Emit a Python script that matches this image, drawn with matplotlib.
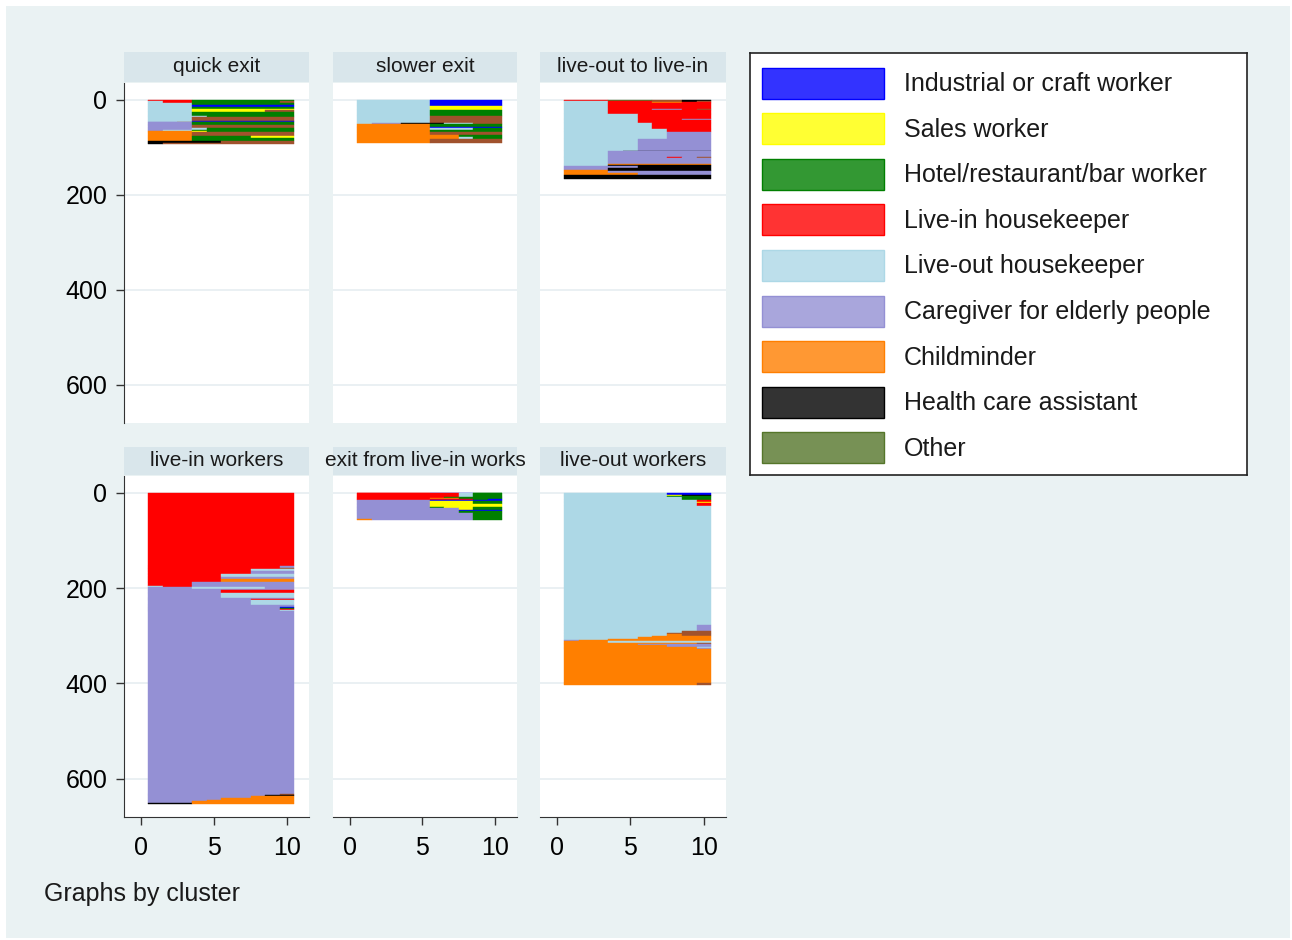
import matplotlib
matplotlib.use('Agg')
from matplotlib import pyplot as plt
from matplotlib.patches import Rectangle

plt.rcParams['font.family'] = ['Liberation Sans', 'DejaVu Sans']

# state codes -> legend labels / plot colours
codes = ['I', 'S', 'H', 'L', 'O', 'C', 'M', 'A', 'T']
labels = ['Industrial or craft worker', 'Sales worker', 'Hotel/restaurant/bar worker',
          'Live-in housekeeper', 'Live-out housekeeper', 'Caregiver for elderly people',
          'Childminder', 'Health care assistant', 'Other']
colors = {'I': '#0000ff', 'S': '#ffff00', 'H': '#007f00', 'L': '#ff0000',
          'O': '#add8e6', 'C': '#9490d4', 'M': '#ff7f00', 'A': '#000000',
          'T': '#55762a', 'B': '#a0522d'}

cluster_names = ['quick exit', 'slower exit', 'live-out to live-in',
                 'live-in workers', 'exit from live-in works', 'live-out workers']

# each entry: (number of identical sequences, states over periods 1..10)
quick_exit = [
    (3, 'LLLHHHHHHH'), (4, 'OLLHHHHHHB'), (4, 'OOOHHHHHHH'), (5, 'OOOIIIIIII'),
    (3, 'OOOHHHHHHH'), (3, 'OOOSSSSSSS'), (4, 'OOOSSSSSBB'), (8, 'OOOHHHHHHH'),
    (3, 'OOOOHHHHHH'), (7, 'OOOBBBBBBB'), (2, 'OOOIIIIIII'), (2, 'CCBBBBBBBB'),
    (6, 'CCCHHHHHHH'), (5, 'CCCBBBBBBB'), (5, 'CCCOHHHHHH'), (2, 'COOHHHHHHH'),
    (3, 'MMMSHHHHHH'), (7, 'MMMBBBBBBB'), (4, 'MMMHHHHSSS'), (8, 'MMMHHHHHHH'),
    (3, 'AAAAABBBBB'), (3, 'ABBBBBBBBB'),
]
slower_exit = [
    (14, 'OOOOOIIIII'), (7, 'OOOOOSSSSS'), (13, 'OOOOOHHHHH'), (15, 'OOOOOBBBBB'),
    (2, 'OCCAAAOOBB'), (6, 'MMMMMHHHHH'), (3, 'MMMMMIIIII'), (3, 'MMMMMOOOHH'),
    (5, 'MMMMMHHHHH'), (6, 'MMMMMBBBBB'), (5, 'MMMMMMMHHH'), (3, 'MMMMMMMOHH'),
    (9, 'MMMMMBBBBB'),
]
out_to_in = [
    (3, 'LLLTTTBBAA'), (3, 'OOOLLLBBAB'), (2, 'OOOLLLMMLL'), (11, 'OOOLLLLLLL'),
    (2, 'OOOLLLCCLB'), (9, 'OOOLLLLLLL'), (10, 'OOOOOLLLLL'), (2, 'OOOOOLLLCC'),
    (8, 'OOOOOLLLLL'), (11, 'OOOOOOLLLL'), (7, 'OOOOOOOLLL'), (15, 'OOOOOOOCCC'),
    (25, 'OOOOOCCCCC'), (1, 'OOOOAAAAAA'), (11, 'OOOCCCCCCC'), (2, 'OOOCCCCLCB'),
    (13, 'OOOCCCCCCC'), (2, 'OOOMMMMMMM'), (3, 'OOOAAAAAAA'), (4, 'CCCCCAAAAA'),
    (4, 'CCCAAAAAAA'), (3, 'MMMAAAAAAA'), (4, 'MMMCCCCCCC'), (3, 'MMMMMCCCCC'),
    (9, 'AAAAAAAAAA'),
]
live_in = [
    (153, 'LLLLLLLLLL'), (5, 'LLLLLLLLLC'), (2, 'LLLLLLLLLB'), (4, 'LLLLLLLOOO'),
    (6, 'LLLLLLLCCC'), (6, 'LLLLLOOOOO'), (6, 'LLLLLCCCCC'), (5, 'LLLLLMMMMM'),
    (8, 'LLLCCCCCCC'), (3, 'OLLCCCCCCC'), (4, 'CCCOOOOOCC'), (3, 'CCCCCCCCCC'),
    (5, 'CCCCCLLLLL'), (10, 'CCCCCOOOOO'), (2, 'CCCCCCCCCC'), (4, 'CCCCCCCLLL'),
    (9, 'CCCCCCCOOO'), (4, 'CCCCCCCCCC'), (2, 'CCCCCCCCCI'), (2, 'CCCCCCCCCH'),
    (4, 'CCCCCCCCCL'), (2, 'CCCCCCCCCO'), (382, 'CCCCCCCCCC'), (3, 'CCCCCCCCCB'),
    (3, 'CCCCCCCCAA'), (4, 'CCCCCCCMMM'), (3, 'CCCCCMMMMM'), (3, 'CCCCMMMMMM'),
    (3, 'CCCMMMMMMM'), (2, 'AAAMMMMMMM'),
]
exit_live_in = [
    (1, 'LLLLLIIIHH'), (7, 'LLLLLLLOHH'), (3, 'LLLLLLHHHH'), (2, 'LLLLLMMHHH'),
    (3, 'LLLLLLLLHI'), (2, 'CCCCCIIIII'), (6, 'CCCCCSSSHH'), (5, 'CCCCCSSSSS'),
    (3, 'CCCCCHSSHH'), (4, 'CCCCCCCSHH'), (2, 'CCCCCCCIII'), (4, 'CCCCCCCHHH'),
    (14, 'CCCCCCCCHH'), (1, 'MCCCCCCCHH'),
]
live_out = [
    (4, 'OOOOOOOIII'), (2, 'OOOOOOOSAA'), (4, 'OOOOOOOHHH'), (6, 'OOOOOOOOHH'),
    (4, 'OOOOOOOOOL'), (2, 'OOOOOOOOOS'), (6, 'OOOOOOOOOL'), (250, 'OOOOOOOOOO'),
    (12, 'OOOOOOOOOC'), (4, 'OOOOOOOOBB'), (3, 'OOOOOOOBBB'), (3, 'OOOOOOOMBB'),
    (3, 'OOOOOOMMMM'), (3, 'OOOOOMMMMM'), (2, 'OOOMMMMMMM'), (2, 'CMMMMMMMMM'),
    (5, 'MMMOOOOOOO'), (2, 'MMMMMMMMMB'), (3, 'MMMMMCCCCC'), (3, 'MMMMMMMCCC'),
    (2, 'MMMMMMMMMO'), (3, 'MMMMMMMMMC'), (72, 'MMMMMMMMMM'), (3, 'MMMMMMMMMB'),
]
panels = [quick_exit, slower_exit, out_to_in, live_in, exit_live_in, live_out]

y_ticks = [0, 200, 400, 600]
x_ticks = [0, 5, 10]

W, H = 1292, 940


def box(x0, y0, x1, y1):
    return [x0 / W, 1 - y1 / H, (x1 - x0) / W, (y1 - y0) / H]


def draw_sequences(ax, seqs):
    y = 0
    for n, s in seqs:
        t = 0
        while t < len(s):
            j = t
            while j < len(s) and s[j] == s[t]:
                j += 1
            ax.barh(y, j - t, left=t + 0.5, height=n, align='edge',
                    color=colors[s[t]], edgecolor=colors[s[t]], linewidth=0.3)
            t = j
        y += n


fig = plt.figure(figsize=(W / 100, H / 100), dpi=100)
fig.patch.set_facecolor('white')
fig.add_artist(Rectangle((6 / W, 2 / H), (1290 - 6) / W, (934 - 2) / H,
                         transform=fig.transFigure, facecolor='#eaf2f3',
                         edgecolor='none', zorder=-10))

col_x = [(124, 309), (333, 517), (540, 726)]
row_y = [((52, 82), (83, 423)), ((447, 475), (476, 817))]

for k, seqs in enumerate(panels):
    r, c = divmod(k, 3)
    (sx0, sx1) = col_x[c]
    (st, sb), (py0, py1) = row_y[r]

    strip = fig.add_axes(box(sx0, st, sx1, sb))
    strip.set_facecolor('#d9e6eb')
    for sp in strip.spines.values():
        sp.set_visible(False)
    strip.set_xticks([])
    strip.set_yticks([])
    strip.text(0.5, 0.5, cluster_names[k], ha='center', va='center',
               fontsize=15, color='#1a1a1a', transform=strip.transAxes)

    ax = fig.add_axes(box(sx0, py0, sx1, py1))
    ax.set_facecolor('white')
    draw_sequences(ax, seqs)
    ax.set_xlim(-1.15, 11.5)
    ax.set_ylim(680, -35)
    ax.set_yticks(y_ticks)
    ax.set_xticks(x_ticks)
    ax.grid(axis='y', color='#e6eef1', linewidth=1.2)
    ax.set_axisbelow(True)
    for sp in ax.spines.values():
        sp.set_visible(False)
    ax.tick_params(labelsize=18, length=6, width=1, color='#333333')
    if c == 0:
        ax.spines['left'].set_visible(True)
        ax.spines['left'].set_color('#333333')
        ax.tick_params(axis='y', pad=6)
    else:
        ax.tick_params(axis='y', left=False, labelleft=False)
    if r == 1:
        ax.spines['bottom'].set_visible(True)
        ax.spines['bottom'].set_color('#333333')
        ax.tick_params(axis='x', pad=8)
    else:
        ax.tick_params(axis='x', bottom=False, labelbottom=False)

# legend
lg = fig.add_axes(box(750, 53, 1247, 475))
lg.set_xlim(0, 497)
lg.set_ylim(422, 0)
lg.set_xticks([])
lg.set_yticks([])
lg.set_facecolor('white')
for sp in lg.spines.values():
    sp.set_color('#222222')
    sp.set_linewidth(1.2)
for i, (code, lab) in enumerate(zip(codes, labels)):
    yc = 30 + 45.6 * i
    lg.add_patch(Rectangle((12, yc - 15.5), 122, 31, facecolor=colors[code],
                           alpha=0.8, edgecolor='none'))
    lg.add_patch(Rectangle((12, yc - 15.5), 122, 31, facecolor='none',
                           edgecolor=colors[code], linewidth=1))
    lg.text(154, yc + 1, lab, va='center', ha='left', fontsize=18, color='#1a1a1a')

fig.text(44 / W, 1 - 894 / H, 'Graphs by cluster', ha='left', va='center',
         fontsize=18, color='#1a1a1a')

fig.savefig('out.png', dpi=100)
